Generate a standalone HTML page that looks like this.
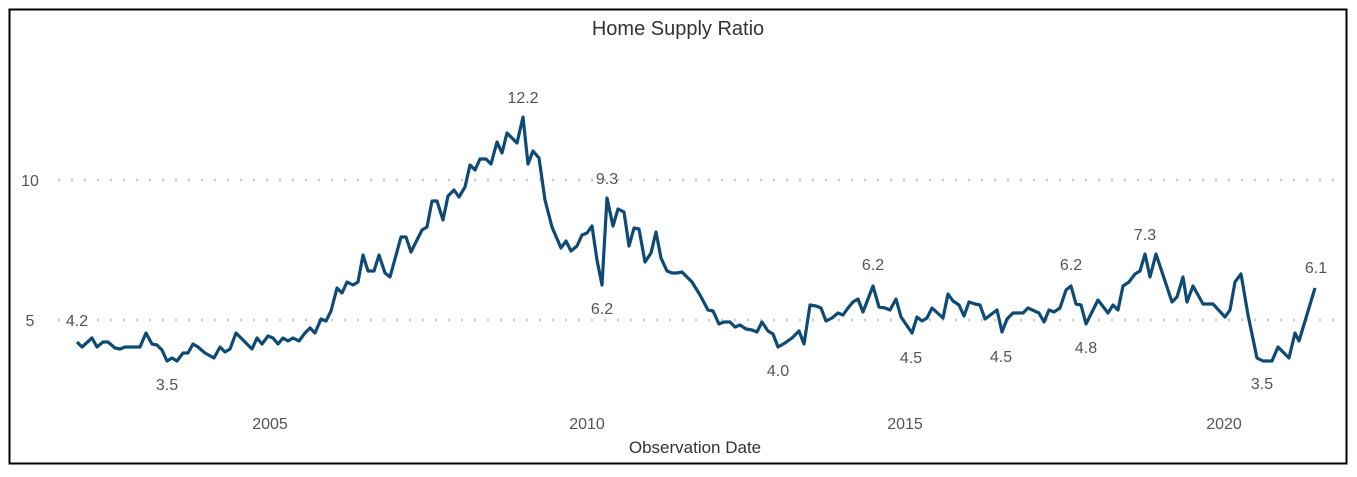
<!DOCTYPE html>
<html><head><meta charset="utf-8"><style>
html,body{margin:0;padding:0;background:#fff;}
svg{display:block;font-family:"Liberation Sans",sans-serif;}
</style></head><body>
<svg width="1357" height="477" viewBox="0 0 1357 477">
<rect x="9.5" y="9.5" width="1337" height="454" fill="#fff" stroke="#000" stroke-width="2"/>
<text x="678" y="35" text-anchor="middle" font-size="20" fill="#333">Home Supply Ratio</text>
<line x1="58" y1="180" x2="1335" y2="180" stroke="#c8c8c8" stroke-width="2.5" stroke-dasharray="2 11"/>
<line x1="58" y1="320" x2="1335" y2="320" stroke="#c8c8c8" stroke-width="2.5" stroke-dasharray="2 11"/>
<g font-size="16" fill="#555">
<text x="30" y="186" text-anchor="middle">10</text>
<text x="30" y="326" text-anchor="middle">5</text>
<text x="270" y="429" text-anchor="middle">2005</text>
<text x="587" y="429" text-anchor="middle">2010</text>
<text x="905" y="429" text-anchor="middle">2015</text>
<text x="1224" y="429" text-anchor="middle">2020</text>
</g>
<text x="695" y="453" text-anchor="middle" font-size="17" fill="#333">Observation Date</text>
<polyline fill="none" stroke="#0e4a76" stroke-width="3.2" stroke-linejoin="round" points="77,342 82,347 92,338 97,347 103,342 108,342 115,348 120,349 125,347 140,347 146,333 152,344 157,345 162,350 167,361 172,358 177,361 183,353 188,353 193,344 198,347 205,353 214,358 220,347 225,352 230,349 236,333 252,349 257,338 262,344 268,336 273,338 278,344 283,338 288,341 293,338 299,341 305,333 310,328 315,333 321,319 326,321 331,311 337,288 342,293 347,282 353,285 358,282 363,255 368,271 374,271 379,255 385,273 390,277 401,237 406,237 411,252 422,230 427,227 432,201 437,201 443,220 448,196 454,190 459,197 465,187 470,165 475,170 480,159 486,159 491,164 497,142 502,153 507,133 517,143 523,117 528,164 533,151 539,158 545,200 552,227 561,248 566,241 571,251 577,246 582,235 587,233 592,226 597,260 602,285 607,198 613,226 618,209 624,212 629,246 634,228 639,229 645,262 651,253 656,232 661,258 667,271 672,273 677,273 682,272 692,282 700,295 708,310 713,311 719,324 724,322 730,322 735,327 740,325 746,329 752,330 757,332 762,322 768,331 773,334 778,347 785,343 792,338 799,331 804,344 810,305 816,306 821,308 826,321 832,318 838,313 843,315 848,308 853,302 858,299 863,312 873,286 879,307 885,308 890,310 896,299 901,317 912,333 917,317 922,321 927,318 932,308 943,318 948,294 953,301 959,305 964,316 969,302 975,304 980,305 985,319 997,310 1002,332 1007,319 1013,313 1023,313 1028,308 1039,313 1044,322 1049,310 1054,312 1060,308 1066,290 1071,286 1076,304 1081,305 1086,324 1098,300 1108,313 1113,305 1118,310 1123,286 1129,282 1135,274 1140,271 1145,254 1150,277 1156,254 1172,302 1177,297 1183,277 1187,302 1193,286 1203,304 1213,304 1225,317 1230,310 1235,282 1241,274 1248,315 1257,358 1263,361 1272,361 1278,347 1289,358 1295,333 1299,341 1315,288"/>
<g font-size="16" fill="#555" text-anchor="middle">
<text x="77" y="326">4.2</text>
<text x="167" y="390">3.5</text>
<text x="523" y="103">12.2</text>
<text x="607" y="184">9.3</text>
<text x="602" y="314">6.2</text>
<text x="778" y="376">4.0</text>
<text x="873" y="270">6.2</text>
<text x="911" y="363">4.5</text>
<text x="1001" y="362">4.5</text>
<text x="1071" y="270">6.2</text>
<text x="1086" y="353">4.8</text>
<text x="1145" y="240">7.3</text>
<text x="1262" y="389">3.5</text>
<text x="1316" y="273">6.1</text>
</g>
</svg>
</body></html>
